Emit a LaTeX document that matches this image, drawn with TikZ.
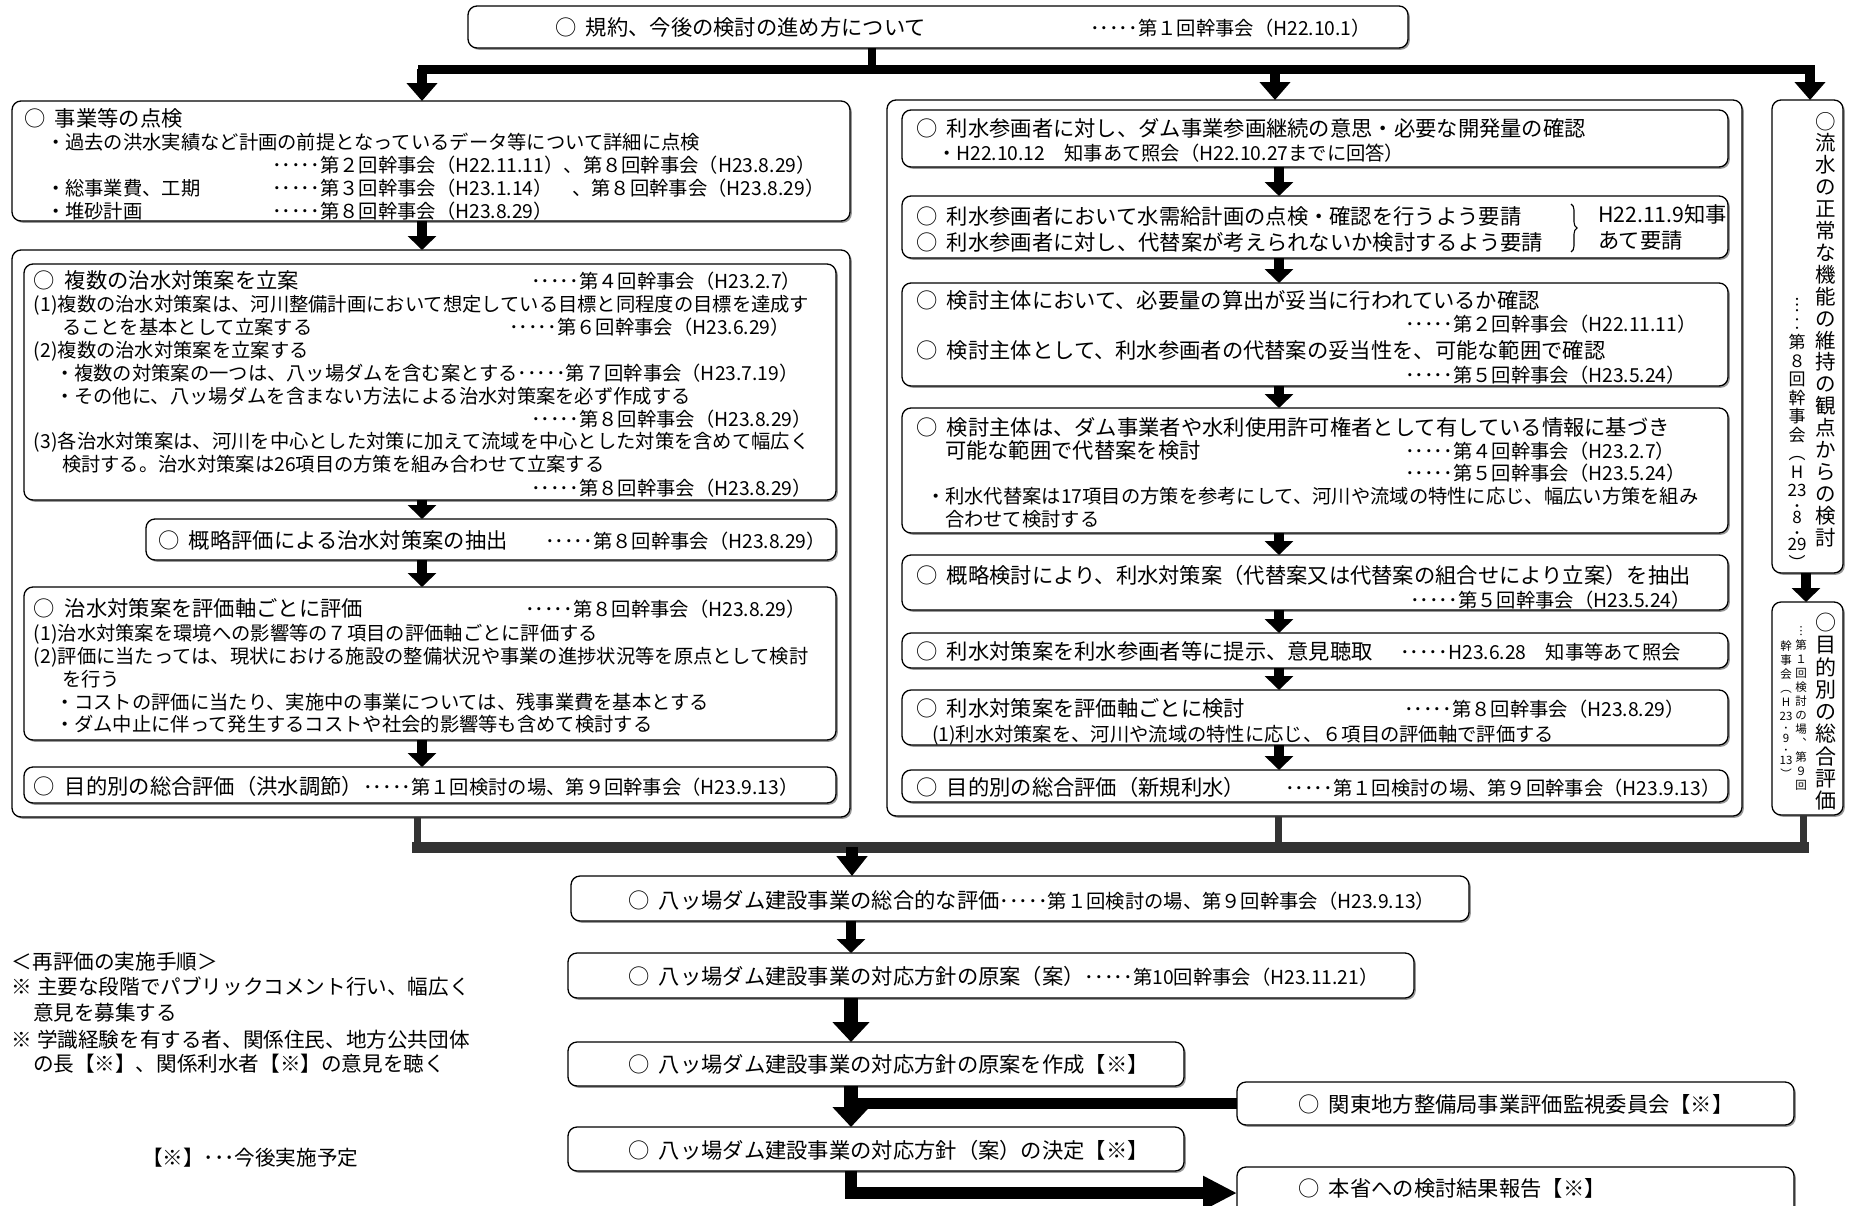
\documentclass[tikz,border=0pt]{standalone}
\usepackage{fontspec}
\setmainfont{Noto Sans CJK JP}
\newfontfamily\jp{Noto Sans CJK JP}
\usetikzlibrary{arrows.meta,shadows,decorations.pathreplacing}
\newcommand\hd{\jp\fontsize{21.3pt}{24pt}\selectfont}
\newcommand\sbf{\jp\fontsize{19.3pt}{23pt}\selectfont}
\newcommand\ntf{\jp\fontsize{20.6pt}{24pt}\selectfont}
\newcommand\vfa{\jp\fontsize{20.5pt}{21.9pt}\selectfont}
\newcommand\vfb{\jp\fontsize{17pt}{18.5pt}\selectfont}
\newcommand\vfc{\jp\fontsize{21pt}{22.3pt}\selectfont}
\newcommand\vfd{\jp\fontsize{11.5pt}{14pt}\selectfont}
\newcommand\mk{○\hspace{0.45em}}
\newcommand\bx[6][box]{\pgfmathsetmacro\bw{#5-#3}\pgfmathsetmacro\bh{#6-#4}%
  \node[#1,minimum width=\bw pt,minimum height=\bh pt,anchor=north west] (#2) at (#3,#4) {};}
\newcommand\tx[4][]{\node[txt,#1] (#2) at (#3) {#4};}
\tikzset{
  box/.style={draw, line width=1.3pt, rounded corners=9pt, fill=white, inner sep=0pt, outer sep=0pt,
    drop shadow={shadow xshift=1.8pt, shadow yshift=-1.8pt, fill=black!80}},
  txt/.style={inner sep=0pt, outer sep=0pt, anchor=west, text height=18.7pt, text depth=2.6pt, font=\sbf},
  vt/.style={inner sep=0pt, outer sep=0pt, anchor=north, align=center},
  arrA/.style={line width=10pt, -{Triangle[width=30pt,length=18pt]}},
  arrS/.style={line width=10pt, -{Triangle[width=28pt,length=14pt]}},
  arrB/.style={line width=12pt, -{Triangle[width=30pt,length=20pt]}},
  arrT/.style={line width=14pt, -{Triangle[width=36pt,length=20pt]}},
  arrL/.style={line width=12pt, -{Triangle[width=32pt,length=34pt]}},
  bar/.style={line width=9pt, line cap=rect},
  gline/.style={draw=black!80, line width=7pt},
  gbar/.style={draw=black!80, line width=11pt, line cap=rect},
  kbar/.style={line width=11pt},
}
\begin{document}
\begin{tikzpicture}[x=1pt,y=-1pt]
\fill[white] (0,0) rectangle (1850,1205);
\useasboundingbox (0,0) rectangle (1850,1205);
% ---------------- boxes
\bx{T}{468}{6}{1408}{48}
\bx{P}{12}{101}{850}{221}
\bx{CL}{12}{250}{850}{817}
\bx{A}{24}{264}{836}{500}
\bx{B}{146}{519}{836}{560}
\bx{C}{24}{587}{836}{740}
\bx{D}{24}{767}{836}{803}
\bx{CR}{887}{100}{1742}{816}
\bx{R1}{902}{110}{1728}{167}
\bx{R2}{902}{196}{1728}{258}
\bx{R3}{902}{283}{1728}{386}
\bx{R4}{902}{408}{1728}{533}
\bx{R5}{902}{555}{1728}{610}
\bx{R6}{902}{633}{1728}{668}
\bx{R7}{902}{690}{1728}{745}
\bx{R8}{902}{770}{1728}{802}
\bx{V1}{1772}{100}{1843}{573}
\bx{V2}{1772}{602}{1843}{815}
\bx{E}{571}{876}{1469}{921}
\bx{F}{568}{953}{1414}{998}
\bx{G}{568}{1042}{1184}{1086}
\bx{K}{1237}{1082}{1794}{1125}
\bx{H}{568}{1127}{1184}{1171}
\bx{L}{1237}{1167}{1794}{1219}
% ---------------- top
\tx{t1}{555,27}{\hd\mk 規約、今後の検討の進め方について}
\tx{t2}{1090,27}{･････第１回幹事会（H22.10.1）}
% ---------------- P
\tx{p1}{24,118}{\hd\mk 事業等の点検}
\tx{p2}{46,141}{・過去の洪水実績など計画の前提となっているデータ等について詳細に点検}
\tx{p3}{272,164}{･････第２回幹事会（H22.11.11）、第８回幹事会（H23.8.29）}
\tx{p4}{46,187}{・総事業費、工期}
\tx{p5}{272,187}{･････第３回幹事会（H23.1.14）　、第８回幹事会（H23.8.29）}
\tx{p6}{46,210}{・堆砂計画}
\tx{p7}{272,210}{･････第８回幹事会（H23.8.29）}
% ---------------- A
\tx{a1}{34,280}{\hd\mk 複数の治水対策案を立案}
\tx{a1d}{531,280}{･････第４回幹事会（H23.2.7）}
\tx{a2}{34,303}{(1)複数の治水対策案は、河川整備計画において想定している目標と同程度の目標を達成す}
\tx{a3}{62,326}{ることを基本として立案する}
\tx{a3d}{509,326}{･････第６回幹事会（H23.6.29）}
\tx{a4}{34,349}{(2)複数の治水対策案を立案する}
\tx{a5}{55,372}{・複数の対策案の一つは、八ッ場ダムを含む案とする･････第７回幹事会（H23.7.19）}
\tx{a6}{55,395}{・その他に、八ッ場ダムを含まない方法による治水対策案を必ず作成する}
\tx{a7}{531,418}{･････第８回幹事会（H23.8.29）}
\tx{a8}{34,440}{(3)各治水対策案は、河川を中心とした対策に加えて流域を中心とした対策を含めて幅広く}
\tx{a9}{62,463}{検討する。治水対策案は26項目の方策を組み合わせて立案する}
\tx{a10}{531,487}{･････第８回幹事会（H23.8.29）}
% ---------------- B
\tx{b1}{158,540}{\hd\mk 概略評価による治水対策案の抽出}
\tx{b1d}{545,540}{･････第８回幹事会（H23.8.29）}
% ---------------- C
\tx{c1}{34,608}{\hd\mk 治水対策案を評価軸ごとに評価}
\tx{c1d}{525,608}{･････第８回幹事会（H23.8.29）}
\tx{c2}{34,632}{(1)治水対策案を環境への影響等の７項目の評価軸ごとに評価する}
\tx{c3}{34,655}{(2)評価に当たっては、現状における施設の整備状況や事業の進捗状況等を原点として検討}
\tx{c4}{62,678}{を行う}
\tx{c5}{55,701}{・コストの評価に当たり、実施中の事業については、残事業費を基本とする}
\tx{c6}{55,723}{・ダム中止に伴って発生するコストや社会的影響等も含めて検討する}
% ---------------- D
\tx{d1}{34,786}{{\hd\mk 目的別の総合評価（洪水調節）}･････第１回検討の場、第９回幹事会（H23.9.13）}
% ---------------- right column
\tx{r1a}{916,128}{\hd\mk 利水参画者に対し、ダム事業参画継続の意思・必要な開発量の確認}
\tx{r1b}{937,152}{・H22.10.12　知事あて照会（H22.10.27までに回答）}
\tx{r2a}{916,216}{\hd\mk 利水参画者において水需給計画の点検・確認を行うよう要請}
\tx{r2b}{916,242}{\hd\mk 利水参画者に対し、代替案が考えられないか検討するよう要請}
\tx{r2c}{1598,214}{\hd H22.11.9知事}
\tx{r2d}{1598,240}{\hd あて要請}
\draw[line width=1.1pt, decorate, decoration={brace, amplitude=6pt}] (1571,204) -- (1571,252);
\tx{r3a}{916,300}{\hd\mk 検討主体において、必要量の算出が妥当に行われているか確認}
\tx{r3b}{1405,323}{･････第２回幹事会（H22.11.11）}
\tx{r3c}{916,350}{\hd\mk 検討主体として、利水参画者の代替案の妥当性を、可能な範囲で確認}
\tx{r3d}{1405,374}{･････第５回幹事会（H23.5.24）}
\tx{r4a}{916,427}{\hd\mk 検討主体は、ダム事業者や水利使用許可権者として有している情報に基づき}
\tx{r4b}{945,450}{\hd 可能な範囲で代替案を検討}
\tx{r4c}{1405,450}{･････第４回幹事会（H23.2.7）}
\tx{r4d}{1405,472}{･････第５回幹事会（H23.5.24）}
\tx{r4e}{926,495}{・利水代替案は17項目の方策を参考にして、河川や流域の特性に応じ、幅広い方策を組み}
\tx{r4f}{945,518}{合わせて検討する}
\tx{r5a}{916,575}{\hd\mk 概略検討により、利水対策案（代替案又は代替案の組合せにより立案）を抽出}
\tx{r5b}{1410,599}{･････第５回幹事会（H23.5.24）}
\tx{r6a}{916,651}{\hd\mk 利水対策案を利水参画者等に提示、意見聴取}
\tx{r6b}{1400,651}{･････H23.6.28　知事等あて照会}
\tx{r7a}{916,708}{\hd\mk 利水対策案を評価軸ごとに検討}
\tx{r7b}{1404,708}{･････第８回幹事会（H23.8.29）}
\tx{r7c}{932,733}{(1)利水対策案を、河川や流域の特性に応じ、６項目の評価軸で評価する}
\tx{r8a}{916,787}{\hd\mk 目的別の総合評価（新規利水）}
\tx{r8b}{1285,787}{･････第１回検討の場、第９回幹事会（H23.9.13）}
% ---------------- vertical boxes
\node[vt, font=\vfa] (v1a) at (1826,112) {○\\流\\水\\の\\正\\常\\な\\機\\能\\の\\維\\持\\の\\観\\点\\か\\ら\\の\\検\\討};
\node[vt, font=\vfb, anchor=south] (v1b) at (1797,569) {︙\\︰\\第\\８\\回\\幹\\事\\会\\︵\\H\\23\\[-3pt]･\\[-7pt]8\\[-3pt]･\\[-7pt]29\\︶};
\node[vt, font=\vfc] (v2a) at (1826,613) {○\\目\\的\\別\\の\\総\\合\\評\\価};
\node[vt, font=\vfd] (v2b) at (1801,627) {︙\\第\\１\\回\\検\\討\\の\\場\\︑\\第\\９\\回};
\node[vt, font=\vfd] (v2c) at (1786,641) {幹\\事\\会\\︵\\H\\23\\[-2pt]･\\[-4pt]9\\[-2pt]･\\[-4pt]13\\︶};
% ---------------- bottom boxes text
\tx{e1}{628,900}{{\hd\mk 八ッ場ダム建設事業の総合的な評価}･････第１回検討の場、第９回幹事会（H23.9.13）}
\tx{f1}{628,976}{{\hd\mk 八ッ場ダム建設事業の対応方針の原案（案）}･････第10回幹事会（H23.11.21）}
\tx{g1}{628,1064}{\hd\mk 八ッ場ダム建設事業の対応方針の原案を作成【※】}
\tx{k1}{1298,1104}{\hd\mk 関東地方整備局事業評価監視委員会【※】}
\tx{h1}{628,1150}{\hd\mk 八ッ場ダム建設事業の対応方針（案）の決定【※】}
\tx{l1}{1298,1188}{\hd\mk 本省への検討結果報告【※】}
% ---------------- notes
\tx[font=\ntf]{n1}{12,961}{＜再評価の実施手順＞}
\tx[font=\ntf]{n2}{12,986}{※ 主要な段階でパブリックコメント行い、幅広く}
\tx[font=\ntf]{n3}{33,1012}{意見を募集する}
\tx[font=\ntf]{n4}{12,1039}{※ 学識経験を有する者、関係住民、地方公共団体}
\tx[font=\ntf]{n5}{33,1063}{の長【※】、関係利水者【※】の意見を聴く}
\tx[font=\ntf]{n6}{142,1157}{【※】･･･今後実施予定}
% ---------------- connectors: top
\coordinate (ts) at (872,69);
\coordinate (jl) at (422,69);
\coordinate (jm) at (1275,69);
\coordinate (jr) at (1810,69);
\draw[line width=8pt] (T.south -| ts) -- (ts);
\draw[bar] (jl) -- (jr);
\draw[arrA] (jl) -- (jl |- P.north);
\draw[arrA] (jm) -- (jm |- CR.north);
\draw[arrA] (jr) -- (jr |- V1.north);
% left column
\coordinate (cx) at (422,0);
\draw[arrS] (P.south -| cx) -- (CL.north -| cx);
\draw[arrS] (A.south -| cx) -- (B.north -| cx);
\draw[arrS] (B.south -| cx) -- (C.north -| cx);
\draw[arrS] (C.south -| cx) -- (D.north -| cx);
% right column
\coordinate (rx) at (1279,0);
\draw[arrS] (R1.south -| rx) -- (R2.north -| rx);
\draw[arrS] (R2.south -| rx) -- (R3.north -| rx);
\draw[arrS] (R3.south -| rx) -- (R4.north -| rx);
\draw[arrS] (R4.south -| rx) -- (R5.north -| rx);
\draw[arrS] (R5.south -| rx) -- (R6.north -| rx);
\draw[arrS] (R6.south -| rx) -- (R7.north -| rx);
\draw[arrS] (R7.south -| rx) -- (R8.north -| rx);
\coordinate (vx) at (1806,0);
\draw[arrS] (V1.south -| vx) -- (V2.north -| vx);
% merge
\coordinate (ml) at (417,847);
\coordinate (mm) at (1278,847);
\coordinate (mr) at (1803,847);
\coordinate (me) at (852,847);
\draw[gline] (CL.south -| ml) -- (ml);
\draw[gline] (CR.south -| mm) -- (mm);
\draw[gline] (V2.south -| mr) -- (mr);
\draw[gbar] (ml) -- (mr);
\draw[arrB] (me) -- (me |- E.north);
% bottom chain
\coordinate (gx) at (851,0);
\draw[arrS] (E.south -| gx) -- (F.north -| gx);
\draw[arrT] (F.south -| gx) -- (G.north -| gx);
\draw[kbar] (K.west) -- (K.west -| gx);
\draw[arrT] (G.south -| gx) -- (H.north -| gx);
\draw[arrL] (H.south -| gx) |- (L.west);
\end{tikzpicture}
\end{document}
